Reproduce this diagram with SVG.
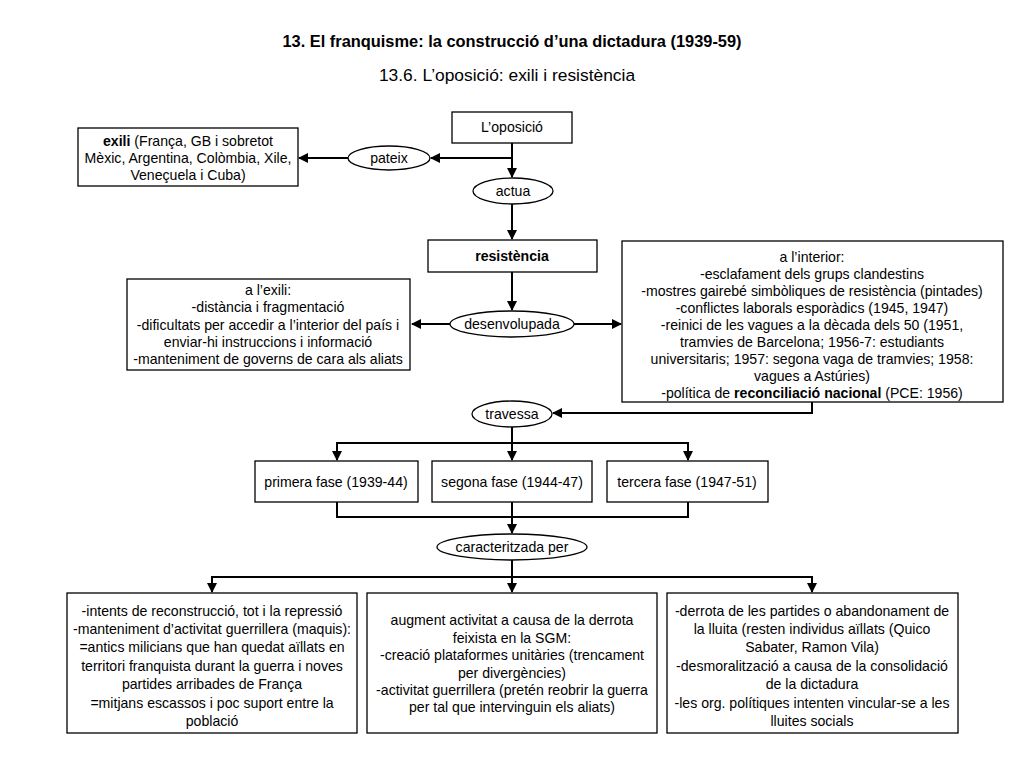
<svg xmlns="http://www.w3.org/2000/svg" width="1024" height="768" viewBox="0 0 1024 768">
<style>
text{font-family:"Liberation Sans",Arial,sans-serif;font-size:14.1px;fill:#000;text-anchor:middle}
.t{font-size:16.4px;font-weight:bold}
.st{font-size:17.4px}
.b{font-weight:bold}
rect,ellipse{fill:#fff;stroke:#000;stroke-width:1.3}
.c path{fill:none;stroke:#000;stroke-width:2}
</style>
<defs>
<marker id="a" markerWidth="10" markerHeight="10" refX="9" refY="5" orient="auto" markerUnits="userSpaceOnUse">
<path d="M0,0 L10,5 L0,10 Z" fill="#000"/>
</marker>
</defs>
<rect x="0" y="0" width="1024" height="768" style="stroke:none"/>
<text class="t" x="512" y="47">13. El franquisme: la construcció d’una dictadura (1939-59)</text>
<text class="st" x="507" y="81">13.6. L’oposició: exili i resistència</text>

<g class="c">
<path d="M512,143 V177" marker-end="url(#a)"/>
<path d="M512,158 H431" marker-end="url(#a)"/>
<path d="M348,158 H299" marker-end="url(#a)"/>
<path d="M512,204 V239" marker-end="url(#a)"/>
<path d="M512,272 V310" marker-end="url(#a)"/>
<path d="M450,324 H412" marker-end="url(#a)"/>
<path d="M574,324 H621" marker-end="url(#a)"/>
<path d="M812,402 V413 H553" marker-end="url(#a)"/>
<path d="M512,427 V460" marker-end="url(#a)"/>
<path d="M337,460 V443 H688 V460" />
<path d="M337,443 V460" marker-end="url(#a)"/>
<path d="M688,443 V460" marker-end="url(#a)"/>
<path d="M337,502 V517 H688 V502"/>
<path d="M512,502 V533" marker-end="url(#a)"/>
<path d="M512,560 V592" marker-end="url(#a)"/>
<path d="M212,592 V577 H812 V592"/>
<path d="M212,577 V592" marker-end="url(#a)"/>
<path d="M812,577 V592" marker-end="url(#a)"/>
</g>

<g id="oposicio"><rect x="452" y="112" width="120" height="31"/><text x="512" y="132">L’oposició</text></g>
<g id="pateix"><ellipse cx="389" cy="158" rx="41" ry="12"/><text x="389" y="163">pateix</text></g>
<g id="exili"><rect x="78" y="128" width="220" height="58"/>
<text x="188" y="146"><tspan class="b">exili</tspan> (França, GB i sobretot</text>
<text x="188" y="163">Mèxic, Argentina, Colòmbia, Xile,</text>
<text x="188" y="180">Veneçuela i Cuba)</text></g>
<g id="actua"><ellipse cx="513" cy="191" rx="40" ry="13"/><text x="513" y="196">actua</text></g>
<g id="resistencia"><rect x="428" y="240" width="169" height="32"/><text class="b" x="512" y="261">resistència</text></g>
<g id="desenvolupada"><ellipse cx="512" cy="324" rx="62" ry="13"/><text x="512" y="329">desenvolupada</text></g>
<g id="alexili"><rect x="127" y="279" width="283" height="91"/>
<text x="268" y="295">a l’exili:</text>
<text x="268" y="312">-distància i fragmentació</text>
<text x="268" y="330">-dificultats per accedir a l’interior del país i</text>
<text x="268" y="347">enviar-hi instruccions i informació</text>
<text x="268" y="364">-manteniment de governs de cara als aliats</text></g>
<g id="interior"><rect x="622" y="241" width="381" height="161"/>
<text x="812" y="262">a l’interior:</text>
<text x="812" y="279">-esclafament dels grups clandestins</text>
<text x="812" y="296">-mostres gairebé simbòliques de resistència (pintades)</text>
<text x="812" y="313">-conflictes laborals esporàdics (1945, 1947)</text>
<text x="812" y="330">-reinici de les vagues a la dècada dels 50 (1951,</text>
<text x="812" y="347">tramvies de Barcelona; 1956-7: estudiants</text>
<text x="812" y="364">universitaris; 1957: segona vaga de tramvies; 1958:</text>
<text x="812" y="381">vagues a Astúries)</text>
<text x="812" y="398">-política de <tspan class="b">reconciliació nacional</tspan> (PCE: 1956)</text></g>
<g id="travessa"><ellipse cx="512" cy="414" rx="40" ry="13"/><text x="512" y="419">travessa</text></g>
<g id="primera"><rect x="255" y="461" width="163" height="41"/><text x="336" y="487">primera fase (1939-44)</text></g>
<g id="segona"><rect x="432" y="461" width="160" height="41"/><text x="512" y="487">segona fase (1944-47)</text></g>
<g id="tercera"><rect x="607" y="461" width="161" height="41"/><text x="687" y="487">tercera fase (1947-51)</text></g>
<g id="caracteritzada"><ellipse cx="512" cy="547" rx="75" ry="13"/><text x="512" y="552">caracteritzada per</text></g>
<g id="b1"><rect x="67" y="593" width="290" height="140"/>
<text x="212" y="616">-intents de reconstrucció, tot i la repressió</text>
<text x="212" y="634">-manteniment d’activitat guerrillera (maquis):</text>
<text x="212" y="652">=antics milicians que han quedat aïllats en</text>
<text x="212" y="671">territori franquista durant la guerra i noves</text>
<text x="212" y="689">partides arribades de França</text>
<text x="212" y="708">=mitjans escassos i poc suport entre la</text>
<text x="212" y="726">població</text></g>
<g id="b2"><rect x="367" y="593" width="290" height="140"/>
<text x="512" y="625">augment activitat a causa de la derrota</text>
<text x="512" y="643">feixista en la SGM:</text>
<text x="512" y="660">-creació plataformes unitàries (trencament</text>
<text x="512" y="678">per divergències)</text>
<text x="512" y="695">-activitat guerrillera (pretén reobrir la guerra</text>
<text x="512" y="712">per tal que intervinguin els aliats)</text></g>
<g id="b3"><rect x="667" y="593" width="291" height="140"/>
<text x="812" y="616">-derrota de les partides o abandonament de</text>
<text x="812" y="634">la lluita (resten individus aïllats (Quico</text>
<text x="812" y="652">Sabater, Ramon Vila)</text>
<text x="812" y="671">-desmoralització a causa de la consolidació</text>
<text x="812" y="689">de la dictadura</text>
<text x="812" y="708">-les org. polítiques intenten vincular-se a les</text>
<text x="812" y="726">lluites socials</text></g>
</svg>
